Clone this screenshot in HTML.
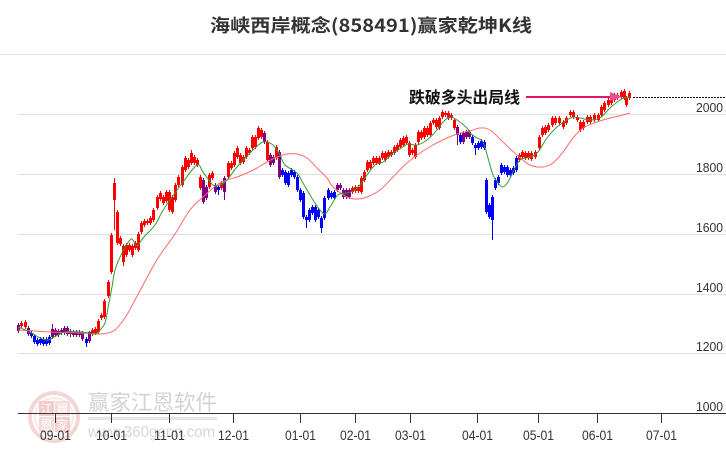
<!DOCTYPE html>
<html><head><meta charset="utf-8"><style>
html,body{margin:0;padding:0;background:#fff;}
body{width:726px;height:450px;overflow:hidden;}
svg{display:block;}
</style></head><body>
<svg id="c" width="726" height="450" viewBox="0 0 726 450" xmlns="http://www.w3.org/2000/svg">
<rect x="0" y="0" width="726" height="450" fill="#fff"/>
<!-- watermark -->
<g opacity="0.9">
<circle cx="54" cy="417" r="24" fill="none" stroke="#f2d2d2" stroke-width="4"/>
<circle cx="54" cy="417" r="19" fill="none" stroke="#f8e6e6" stroke-width="2"/>
<rect x="39" y="401" width="15" height="15" fill="#f2c8c8"/>
<rect x="55" y="401" width="15" height="15" fill="#f5d6d6"/>
<rect x="39" y="417" width="15" height="15" fill="#f5d6d6"/>
<rect x="55" y="417" width="15" height="15" fill="#f2c8c8"/>
<text x="46.5" y="413" font-family="'Noto Sans CJK SC',sans-serif" font-size="12" fill="#fff" text-anchor="middle">江</text>
<text x="62.5" y="413" font-family="'Noto Sans CJK SC',sans-serif" font-size="12" fill="#fff" text-anchor="middle">赢</text>
<text x="46.5" y="429" font-family="'Noto Sans CJK SC',sans-serif" font-size="12" fill="#fff" text-anchor="middle">恩</text>
<text x="62.5" y="429" font-family="'Noto Sans CJK SC',sans-serif" font-size="12" fill="#fff" text-anchor="middle">家</text>
<text x="88" y="410" font-family="'Noto Sans CJK SC',sans-serif" font-size="21.5" fill="#cfcfcf" textLength="129" lengthAdjust="spacingAndGlyphs">赢家江恩软件</text>
<rect x="88" y="417" width="129" height="3" fill="#e4e4e4"/>
<text x="88" y="437" font-family="'Liberation Sans',sans-serif" font-size="16" fill="#d2d2d2" textLength="127" lengthAdjust="spacingAndGlyphs">www.360gann.com</text>
</g>
<!-- title -->
<text x="371" y="32" text-anchor="middle" font-family="'Noto Sans CJK SC','Liberation Sans',sans-serif" font-weight="bold" font-size="18" fill="#333" textLength="322" lengthAdjust="spacingAndGlyphs">海峡西岸概念(858491)赢家乾坤K线</text>
<line x1="0" y1="54.5" x2="726" y2="54.5" stroke="#e6e6e6" stroke-width="1"/>
<!-- grid -->
<g stroke="#e0e0e0" stroke-width="1">
<line x1="18" y1="114.5" x2="726" y2="114.5"/>
<line x1="18" y1="174.5" x2="726" y2="174.5"/>
<line x1="18" y1="234.5" x2="726" y2="234.5"/>
<line x1="18" y1="294.5" x2="726" y2="294.5"/>
<line x1="18" y1="353.5" x2="726" y2="353.5"/>
</g>
<g font-family="'Liberation Sans',sans-serif" font-size="13" fill="#333" text-anchor="end">
<text x="723" y="112" textLength="27" lengthAdjust="spacingAndGlyphs">2000</text>
<text x="723" y="172" textLength="27" lengthAdjust="spacingAndGlyphs">1800</text>
<text x="723" y="232" textLength="27" lengthAdjust="spacingAndGlyphs">1600</text>
<text x="723" y="292" textLength="27" lengthAdjust="spacingAndGlyphs">1400</text>
<text x="723" y="351" textLength="27" lengthAdjust="spacingAndGlyphs">1200</text>
<text x="723" y="411" textLength="27" lengthAdjust="spacingAndGlyphs">1000</text>
</g>
<!-- axis -->
<line x1="18" y1="413.5" x2="726" y2="413.5" stroke="#333" stroke-width="1"/>
<g stroke="#333" stroke-width="1">
<line x1="55.5" y1="413" x2="55.5" y2="423"/>
<line x1="111.5" y1="413" x2="111.5" y2="423"/>
<line x1="169.5" y1="413" x2="169.5" y2="423"/>
<line x1="233.5" y1="413" x2="233.5" y2="423"/>
<line x1="300.5" y1="413" x2="300.5" y2="423"/>
<line x1="355.5" y1="413" x2="355.5" y2="423"/>
<line x1="410.5" y1="413" x2="410.5" y2="423"/>
<line x1="477.5" y1="413" x2="477.5" y2="423"/>
<line x1="538.5" y1="413" x2="538.5" y2="423"/>
<line x1="597.5" y1="413" x2="597.5" y2="423"/>
<line x1="661.5" y1="413" x2="661.5" y2="423"/>
</g>
<g font-family="'Liberation Sans',sans-serif" font-size="13.5" fill="#333" text-anchor="middle">
<text x="55.5" y="440" textLength="31" lengthAdjust="spacingAndGlyphs">09-01</text>
<text x="111.5" y="440" textLength="31" lengthAdjust="spacingAndGlyphs">10-01</text>
<text x="169.5" y="440" textLength="31" lengthAdjust="spacingAndGlyphs">11-01</text>
<text x="233.5" y="440" textLength="31" lengthAdjust="spacingAndGlyphs">12-01</text>
<text x="300.5" y="440" textLength="31" lengthAdjust="spacingAndGlyphs">01-01</text>
<text x="355.5" y="440" textLength="31" lengthAdjust="spacingAndGlyphs">02-01</text>
<text x="410.5" y="440" textLength="31" lengthAdjust="spacingAndGlyphs">03-01</text>
<text x="477.5" y="440" textLength="31" lengthAdjust="spacingAndGlyphs">04-01</text>
<text x="538.5" y="440" textLength="31" lengthAdjust="spacingAndGlyphs">05-01</text>
<text x="597.5" y="440" textLength="31" lengthAdjust="spacingAndGlyphs">06-01</text>
<text x="661.5" y="440" textLength="31" lengthAdjust="spacingAndGlyphs">07-01</text>
</g>
<g id="candles"></g>
<path id="ma2" fill="none" stroke="#ff6a6a" stroke-width="1"/>
<path id="ma1" fill="none" stroke="#339933" stroke-width="1"/>
<!-- annotation -->
<text x="409" y="103" font-family="'Noto Sans CJK SC',sans-serif" font-weight="bold" font-size="16" fill="#111" textLength="111" lengthAdjust="spacingAndGlyphs">跌破多头出局线</text>
<line x1="526" y1="97" x2="612" y2="97" stroke="#e3156b" stroke-width="2"/>
<polygon points="610,92 622,97 610,101" fill="#ee4d95"/>
<line x1="633" y1="97.5" x2="726" y2="97.5" stroke="#111" stroke-width="1" stroke-dasharray="2,1"/>
</svg>
<script>
const D=`18,325,331,p
21,323,326,r
25,322,327,r
28,328,334,p
31,333,336,b
34,336,342,b
37,340,344,b,,346
40,339,343,b
43,339,344,b
46,339,344,b
49,337,343,b
52,329,337,p,324
55,330,335,p
58,331,335,p
61,330,333,p
64,328,333,p
67,328,334,p
70,331,334,p,,337
73,332,335,p
76,332,335,p
79,332,335,p
82,333,339,p
86,339,343,b,,347
89,332,341,p,331
92,330,334,r
95,329,333,r
98,321,332,r
101,315,318,r
104,301,317,r
108,282,296,r
111,235,272,r,233,274
114,183,200,r,178,230
117,212,243,r
120,238,244,r
123,246,262,r,,266
126,245,255,r
129,245,250,r
132,246,255,r
135,243,248,r
138,234,250,r
141,223,232,r
144,221,225,r
147,221,223,r
150,218,223,r
153,210,220,r
157,197,208,r
160,193,199,r
163,197,203,r
166,192,201,r
169,192,210,r
172,197,212,r
175,185,200,r
178,177,185,r
182,167,185,r
185,158,170,r
188,160,167,r
191,153,163,r,150
194,157,163,r
197,160,165,r
200,177,188,r
203,180,202,p
206,187,198,p
209,175,187,r
212,173,178,r
215,185,192,p
218,187,190,b,,195
221,183,188,r
224,178,192,p,,200
228,163,177,r
231,163,168,r
234,153,165,r
237,148,157,r
240,155,163,r
243,157,162,r
246,148,157,r
249,150,153,r
252,137,148,r
255,137,147,r
258,128,138,r
261,130,137,r
264,133,142,p
267,142,160,r
270,155,165,p
273,157,163,p
276,147,158,r
279,152,177,p
282,170,175,b
285,172,183,b
288,173,185,b
291,170,175,b
294,172,177,b
297,177,190,b
300,190,200,b
303,193,217,b
306,217,220,b,,228
309,210,220,b
312,207,213,b
315,207,220,b
318,210,217,b
321,218,228,b,,233
324,198,218,b
328,190,198,b
331,193,197,b
334,192,198,b
337,185,190,p
340,185,188,p
343,190,197,p
346,190,197,p
349,190,197,p
352,188,192,r
355,187,191,r
358,187,191,r
361,178,192,r
364,172,180,r
367,162,170,r
370,162,168,r
373,158,163,r
376,158,163,r
379,158,163,r
382,153,158,r
385,153,160,r
388,152,157,r
391,152,155,r
394,147,153,r
397,145,150,r
400,140,147,r
403,138,145,r
406,137,143,r
409,143,155,r
412,150,153,r
415,145,157,r
418,132,142,r
421,132,138,r
424,128,137,r
427,128,135,r
430,123,135,r
433,120,123,r
436,120,127,r
439,118,128,r
442,112,117,r,110
445,113,115,r
448,113,118,r
451,115,118,r
454,120,128,r
457,127,135,p,,145
460,135,142,b
463,133,142,p
466,132,137,p
469,132,137,p
472,137,143,b
475,145,148,b,,155
478,143,148,b
481,141,147,b
484,142,148,b
486,180,212,b
489,205,217,b
492,197,220,b,,240
495,180,188,b
498,177,183,b
501,165,173,b
504,167,172,b
507,167,175,b
510,170,175,b
513,168,173,b
516,158,170,b
519,155,160,r
522,152,157,r
525,153,158,r
528,153,158,r
531,153,159,r
535,152,157,r
539,137,148,r
542,128,135,r
545,127,133,r
548,125,130,r
552,118,125,r
555,118,123,r
559,118,123,r
563,122,127,r
566,118,123,r
570,112,115,r
573,112,117,r
577,117,120,r
580,122,130,r
583,122,128,r
587,117,122,r
590,117,122,r
594,115,120,r
598,115,120,r
601,107,115,r
604,103,110,r
608,100,105,r
611,100,103,r
614,95,100,r
617,95,98,r
621,92,97,r
624,91,98,r
626,98,105,r
629,93,98,r`;
const C={r:"#ff0000",b:"#0000ff",p:"#800080"};
let h="";
D.trim().split("\n").forEach(l=>{
 const a=l.split(",");const x=+a[0],t=+a[1],b=+a[2],c=C[a[3]];
 const hi=a[4]?+a[4]:t-2, lo=a[5]?+a[5]:b+2;
 h+=`<line x1="${x+0.5}" y1="${hi}" x2="${x+0.5}" y2="${lo}" stroke="${c}" stroke-width="1"/>`;
 h+=`<rect x="${x-1}" y="${t}" width="3" height="${Math.max(1,b-t)}" fill="${c}"/>`;
});
document.getElementById("candles").innerHTML=h;
function sp(p){let d=`M${p[0][0]},${p[0][1]}`;for(let i=0;i<p.length-1;i++){const p0=p[i-1]||p[i],p1=p[i],p2=p[i+1],p3=p[i+2]||p2;
const c1=[p1[0]+(p2[0]-p0[0])/6,p1[1]+(p2[1]-p0[1])/6],c2=[p2[0]-(p3[0]-p1[0])/6,p2[1]-(p3[1]-p1[1])/6];
d+=`C${c1[0].toFixed(2)},${c1[1].toFixed(2)} ${c2[0].toFixed(2)},${c2[1].toFixed(2)} ${p2[0]},${p2[1]}`;}return d;}
const G=[[18,327],[30,332],[40,338],[48,340],[56,336],[65,332],[82,332],[95,334],[100,330],[105,323],[108,308],[112,287],[115,270],[122,253],[130,240],[133,240],[137,246],[143,238],[155,225],[162,212],[170,200],[183,182],[197,165],[203,172],[213,185],[220,185],[227,180],[237,167],[250,153],[263,142],[273,145],[280,155],[285,165],[297,173],[303,183],[313,200],[320,210],[325,214],[330,207],[338,195],[347,193],[353,191],[360,185],[367,175],[375,165],[383,162],[393,153],[403,147],[408,144],[417,145],[427,140],[437,130],[443,122],[450,117],[457,120],[467,128],[470,133],[477,138],[483,142],[488,158],[493,175],[498,183],[503,187],[508,182],[513,172],[520,160],[530,157],[538,152],[547,138],[557,127],[567,120],[573,117],[580,118],[590,120],[600,118],[610,108],[620,100],[628,97],[630,97]];
const R=[[18,330],[50,332],[82,333],[100,334],[108,333],[115,330],[122,322],[128,313],[135,300],[142,287],[155,263],[165,248],[175,234],[190,210],[203,197],[217,185],[227,180],[237,177],[247,173],[257,168],[267,162],[277,157],[287,154],[297,154],[307,158],[317,168],[327,178],[333,187],[347,197],[357,199],[367,197],[380,190],[393,177],[407,163],[420,153],[433,145],[447,138],[460,133],[470,131],[480,128],[490,130],[503,142],[517,155],[530,165],[543,167],[553,163],[563,152],[573,138],[583,128],[597,122],[610,118],[623,115],[630,113]];
document.getElementById("ma1").setAttribute("d",sp(G));
document.getElementById("ma2").setAttribute("d",sp(R));
</script>
</body></html>
